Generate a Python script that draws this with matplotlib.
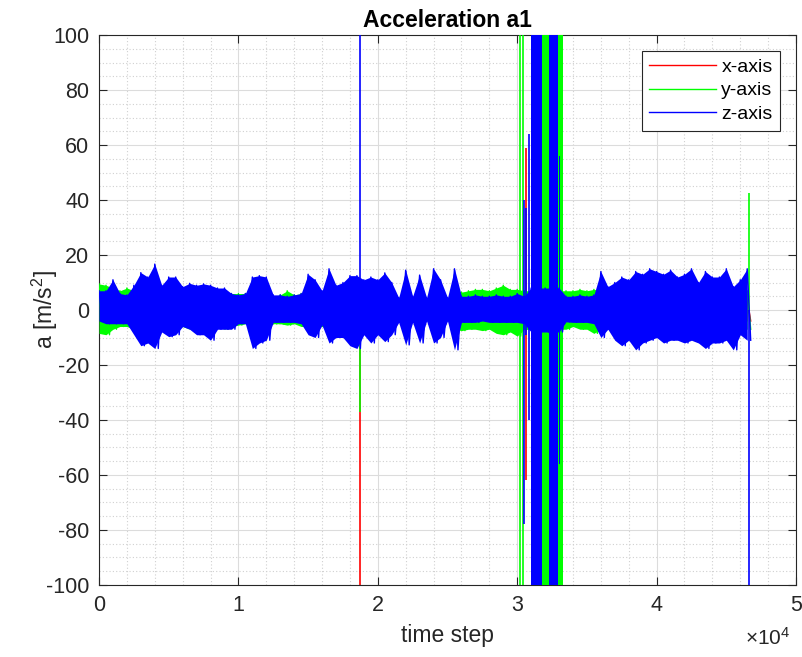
import numpy as np
import matplotlib
matplotlib.use('Agg')
import matplotlib.pyplot as plt
from matplotlib.ticker import MultipleLocator

plt.rcParams['font.family'] = ['Liberation Sans', 'DejaVu Sans']
plt.rcParams['mathtext.fontset'] = 'custom'
plt.rcParams['mathtext.rm'] = 'Liberation Sans'
plt.rcParams['mathtext.it'] = 'Liberation Sans:italic'
plt.rcParams['axes.unicode_minus'] = False

# envelope of the accelerometer noise, one min/max pair every 500 steps (t = 0 .. 46500)
STEP = 500
z_hi = [7, 7, 11, 6, 5.5, 9, 13.6, 12, 16.7, 9,
        12, 12, 8.5, 9.7, 9, 9.5, 9, 8, 8, 6,
        5.5, 6, 12, 12.5, 12, 5.5, 5.5, 5, 5.5, 6,
        13, 11, 7, 15, 9, 10, 12.5, 12.5, 11, 12,
        11, 13.5, 10, 4.5, 14.5, 5, 12.7, 4.5, 15, 11,
        4.5, 15, 5, 5, 5.5, 5, 5, 5.5, 5, 5,
        6, 5, 8, 8, 8, 8, 8, 5, 5, 5.5,
        5, 5.5, 14, 8.5, 10, 12, 11, 14, 13, 15,
        14, 13, 14.5, 12, 13, 15, 10, 14, 12, 12,
        15, 8.5, 11, 15]
z_lo = [-4, -5, -5, -5, -5, -9, -13, -12, -14, -8,
        -9.7, -9, -6, -7, -9, -9, -11, -7, -7, -7,
        -5, -5, -14, -12, -11, -4.5, -4.5, -4.5, -4.5, -5,
        -9, -10, -5.5, -12, -10, -10, -13, -14, -9, -12,
        -9, -11.5, -9, -4.5, -12.7, -4.5, -12, -4, -12, -10,
        -4, -14.5, -4.5, -4.5, -4.5, -4, -4.5, -4.5, -4.5, -4.5,
        -4.5, -5, -8, -8, -8, -8, -8, -4.3, -4.5, -4.5,
        -4.5, -5, -10, -7, -11, -13, -11, -14.5, -12, -11,
        -10, -12, -11, -11, -12, -11, -12, -14, -12, -12,
        -11, -14.5, -9, -11]
y_hi = [9.5, 9, 8, 7, 8, 7, 8, 7, 8, 7,
        7, 7, 7, 7, 7, 7, 8, 7, 7, 6,
        6, 6, 7, 7, 7, 5, 5.5, 7, 5.5, 6,
        7, 7, 6, 7, 7, 7, 7, 7, 7, 7,
        7, 7, 7, 4.5, 7, 4.5, 7, 4, 7, 7,
        4, 7, 6.5, 7, 7.5, 7.5, 7, 8, 9, 7.5,
        7.5, 7, 7, 7, 7, 7, 7, 7, 7, 7.5,
        7, 7.5, 7, 7, 7, 7, 7, 7, 7, 7,
        7, 7, 7, 7, 7, 7, 7, 7, 7, 7,
        7, 7, 7, 7]
y_lo = [-8.5, -9, -7, -6, -6, -7, -8, -7, -8, -6,
        -7, -7, -6, -7, -6, -7, -7, -6, -7, -6,
        -5.5, -5, -7, -7, -6, -5, -5, -5.5, -5, -6,
        -6, -6, -6, -7, -7, -7, -7, -7, -7, -7,
        -7, -7, -6, -4, -7, -4, -7, -3.5, -7, -7,
        -3.5, -7, -7.5, -7, -7, -7.5, -7, -8.5, -9, -8,
        -9.5, -7, -7, -7, -7, -7, -7, -7, -6, -7,
        -7, -8.5, -7, -7, -7, -7, -7, -7, -7, -7,
        -7, -7, -7, -7, -7, -7, -7, -7, -7, -7,
        -7, -7, -7, -7]
x_hi = [4, 4, 3.5, 4, 3.5, 4, 4, 3.5, 4, 3.5,
        3.5, 4, 3.5, 3.5, 3.5, 4, 4, 3.5, 4, 4,
        3.5, 4, 3.5, 4, 3.5, 3.5, 3.5, 3.5, 3.5, 3.5,
        4, 3.5, 3.5, 4, 4, 4, 4, 4, 4, 4,
        4, 4, 3.5, 3, 4, 3, 4, 3, 4, 4,
        3, 4, 3.5, 3.5, 3.5, 3.5, 3.5, 3.5, 3.5, 3.5,
        3.5, 3.5, 4, 4, 4, 4, 4, 3.5, 3.5, 3.5,
        3.5, 3.5, 4, 4, 4, 4, 4, 4, 4, 4,
        4, 4, 4, 4, 4, 4, 4, 4, 4, 4,
        4, 4, 4, 4]
x_lo = [-3.5, -4, -4, -4, -4, -4, -4, -4, -4, -4,
        -4, -4, -4, -4, -4, -4, -4, -4, -4, -4,
        -3.5, -3.5, -4, -4, -4, -3.5, -3.5, -3.5, -3.5, -3.5,
        -4, -4, -4, -4, -4, -4, -4, -4, -4, -4,
        -4, -4, -4, -3, -4, -3, -4, -3, -4, -4,
        -3, -4, -3.5, -3.5, -3.5, -3.5, -3.5, -3.5, -3.5, -3.5,
        -3.5, -3.5, -4, -4, -4, -4, -4, -3.5, -3.5, -3.5,
        -3.5, -3.5, -4, -4, -4, -4, -4, -4, -4, -4,
        -4, -4, -4, -4, -4, -4, -4, -4, -4, -4,
        -4, -4, -4, -4]

# saturated bursts around t = 3.1e4 (start, end, amplitude)
x_burst = []
y_burst = [(31000, 33250, 130)]
z_burst = [(31000, 31750, 130), (32250, 32900, 130), (33000, 33080, 56)]

# single-sample spikes (time step, low, high)
x_spike_t = [18700, 30650]
x_spike_lo = [-130, -62]
x_spike_hi = [0, 59]
y_spike_t = [18700, 30230, 30440, 46600]
y_spike_lo = [-37, -130, -130, 0]
y_spike_hi = [0, 130, 130, 42.5]
z_spike_t = [18700, 30500, 30650, 30850, 46600]
z_spike_lo = [0, -78, -9, -40, -120]
z_spike_hi = [130, 40, 37, 64, 0]


def draw_axis(ax, hi, lo, bursts, sp_t, sp_lo, sp_hi, color, label, z):
    hi = np.asarray(hi, float)
    lo = np.asarray(lo, float)
    t = np.arange(len(hi)) * STEP
    ax.fill_between(t, lo, hi, color=color, lw=0, zorder=z)
    tz = np.column_stack([t, t + STEP / 2]).ravel()
    vz = np.column_stack([hi, lo]).ravel()
    line, = ax.plot(tz, vz, color=color, lw=1.0, label=label, zorder=z)
    for t0, t1, a in bursts:
        ax.fill_between([t0, t1], [-a, -a], [a, a], color=color, lw=0, zorder=z)
    ax.vlines(sp_t, sp_lo, sp_hi, color=color, lw=1.2, zorder=z)
    return line


fig = plt.figure(figsize=(8.03, 6.57), dpi=100)
ax = fig.add_axes([0.1233, 0.1096, 0.868, 0.8371])

h1 = draw_axis(ax, x_hi, x_lo, x_burst, x_spike_t, x_spike_lo, x_spike_hi, '#ff0000', 'x-axis', 2)
h2 = draw_axis(ax, y_hi, y_lo, y_burst, y_spike_t, y_spike_lo, y_spike_hi, '#00ff00', 'y-axis', 3)
h3 = draw_axis(ax, z_hi, z_lo, z_burst, z_spike_t, z_spike_lo, z_spike_hi, '#0000ff', 'z-axis', 4)

ax.set_xlim(0, 50000)
ax.set_ylim(-100, 100)
ax.set_xticks(np.arange(0, 50001, 10000))
ax.set_xticklabels(['0', '1', '2', '3', '4', '5'])
ax.set_yticks(np.arange(-100, 101, 20))
ax.xaxis.set_minor_locator(MultipleLocator(2000))
ax.yaxis.set_minor_locator(MultipleLocator(5))

ax.set_axisbelow(True)
ax.grid(which='major', color='#dcdcdc', lw=0.8, ls='-')
ax.grid(which='minor', color='#d0d0d0', lw=0.8, ls=(0, (1, 2)))
ax.tick_params(which='major', direction='in', length=6, width=0.8, color='#262626',
               top=True, right=True, labelsize=15.5, labelcolor='#262626', pad=7)
ax.tick_params(which='minor', length=0)
for s in ax.spines.values():
    s.set_color('#262626')
    s.set_linewidth(0.8)

ax.set_title('Acceleration a1', fontsize=16.5, fontweight='bold', pad=6)
ax.set_xlabel('time step', fontsize=16.5, color='#262626', labelpad=6)
ax.set_ylabel('a [m/s$^2$]', fontsize=16.5, color='#262626')
ax.yaxis.set_label_coords(-0.056, 0.5)
ax.text(0.992, -0.097, r'$\times10^{4}$', transform=ax.transAxes, ha='right', va='center',
        fontsize=15, color='#262626')

leg = ax.legend(handles=[h1, h2, h3], loc='upper right', fontsize=14, handlelength=3.4,
                handletextpad=0.3, labelspacing=0.3, borderaxespad=0.8, fancybox=False,
                framealpha=1.0, edgecolor='#262626')
leg.get_frame().set_linewidth(0.8)
for l in leg.get_lines():
    l.set_linewidth(1.0)

fig.savefig('out.png', dpi=100, facecolor='white')
